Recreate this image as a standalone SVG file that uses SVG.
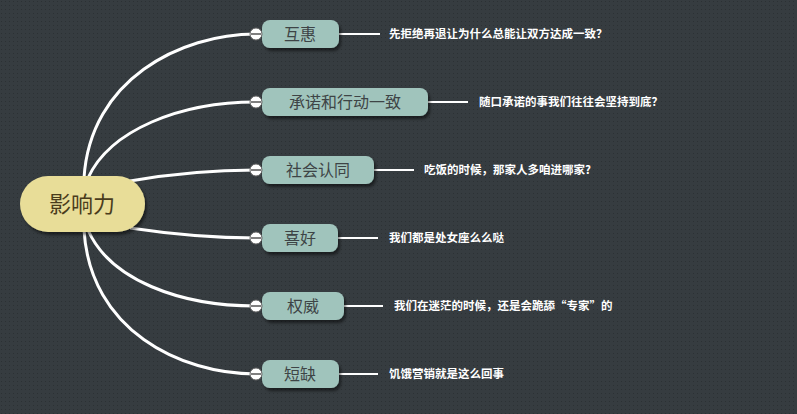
<svg xmlns="http://www.w3.org/2000/svg" width="797" height="414" viewBox="0 0 797 414">
<defs>
<pattern id="dots" width="4" height="4" patternUnits="userSpaceOnUse"><rect width="4" height="4" fill="#363c40"/><rect x="1" y="1" width="1" height="1" fill="#2c3134"/></pattern>
<filter id="sh" x="-10%" y="-20%" width="130%" height="160%"><feDropShadow dx="2" dy="3" stdDeviation="1.5" flood-color="#000" flood-opacity="0.5"/></filter>
</defs>
<style>
.b{fill:#a0c4bc;filter:url(#sh)}
.bt{font-family:"Noto Sans CJK SC",sans-serif;font-size:16px;fill:#3e4446}
.lt{font-family:"Noto Sans CJK SC",sans-serif;font-size:11.5px;font-weight:bold;fill:#fff}
.c{fill:none;stroke:#fff;stroke-width:3}
.l{stroke:#fff;stroke-width:2}
.k{fill:#fff;stroke:#666;stroke-width:1}
</style>
<rect width="797" height="414" fill="url(#dots)"/>
<g id="connectors">
<path class="c" d="M84,178 C90,80 180,34 256,34"/>
<path class="c" d="M88,178 C110,130 180,102 256,102"/>
<path class="c" d="M130,181 C170,174 210,170 256,170"/>
<path class="c" d="M130,228 C170,234 210,238 256,238"/>
<path class="c" d="M88,230 C110,280 180,306 256,306"/>
<path class="c" d="M84,230 C90,330 180,374 256,374"/>
<line class="l" x1="339" y1="34" x2="380" y2="34"/>
<line class="l" x1="428" y1="102" x2="468" y2="102"/>
<line class="l" x1="374" y1="170" x2="414" y2="170"/>
<line class="l" x1="338" y1="238" x2="378" y2="238"/>
<line class="l" x1="344" y1="306" x2="383" y2="306"/>
<line class="l" x1="339" y1="374" x2="378" y2="374"/>
</g>
<g id="root"><rect x="20" y="176" width="125" height="56" rx="28" fill="#e8dd98" filter="url(#sh)"/><text x="82" y="212" text-anchor="middle" font-family="Noto Sans CJK SC,sans-serif" font-size="22" fill="#4a3c1c">影响力</text></g>
<g id="n1"><rect class="b" x="262" y="20" width="77" height="28" rx="8"/><text class="bt" x="300" y="40" text-anchor="middle">互惠</text><circle class="k" cx="256" cy="34" r="6"/><line x1="251" y1="34" x2="261" y2="34" stroke="#555" stroke-width="1.5"/><text class="lt" x="389" y="38">先拒绝再退让为什么总能让双方达成一致？</text></g>
<g id="n2"><rect class="b" x="262" y="88" width="166" height="28" rx="8"/><text class="bt" x="345" y="108" text-anchor="middle">承诺和行动一致</text><circle class="k" cx="256" cy="102" r="6"/><line x1="251" y1="102" x2="261" y2="102" stroke="#555" stroke-width="1.5"/><text class="lt" x="479" y="106">随口承诺的事我们往往会坚持到底？</text></g>
<g id="n3"><rect class="b" x="262" y="156" width="112" height="28" rx="8"/><text class="bt" x="318" y="176" text-anchor="middle">社会认同</text><circle class="k" cx="256" cy="170" r="6"/><line x1="251" y1="170" x2="261" y2="170" stroke="#555" stroke-width="1.5"/><text class="lt" x="424" y="174">吃饭的时候，那家人多咱进哪家?</text></g>
<g id="n4"><rect class="b" x="262" y="224" width="76" height="28" rx="8"/><text class="bt" x="300" y="244" text-anchor="middle">喜好</text><circle class="k" cx="256" cy="238" r="6"/><line x1="251" y1="238" x2="261" y2="238" stroke="#555" stroke-width="1.5"/><text class="lt" x="389" y="242">我们都是处女座么么哒</text></g>
<g id="n5"><rect class="b" x="262" y="292" width="82" height="28" rx="8"/><text class="bt" x="303" y="312" text-anchor="middle">权威</text><circle class="k" cx="256" cy="306" r="6"/><line x1="251" y1="306" x2="261" y2="306" stroke="#555" stroke-width="1.5"/><text class="lt" x="394" y="310">我们在迷茫的时候，还是会跪舔“专家”的</text></g>
<g id="n6"><rect class="b" x="262" y="360" width="77" height="28" rx="8"/><text class="bt" x="300" y="380" text-anchor="middle">短缺</text><circle class="k" cx="256" cy="374" r="6"/><line x1="251" y1="374" x2="261" y2="374" stroke="#555" stroke-width="1.5"/><text class="lt" x="389" y="378">饥饿营销就是这么回事</text></g>
</svg>
